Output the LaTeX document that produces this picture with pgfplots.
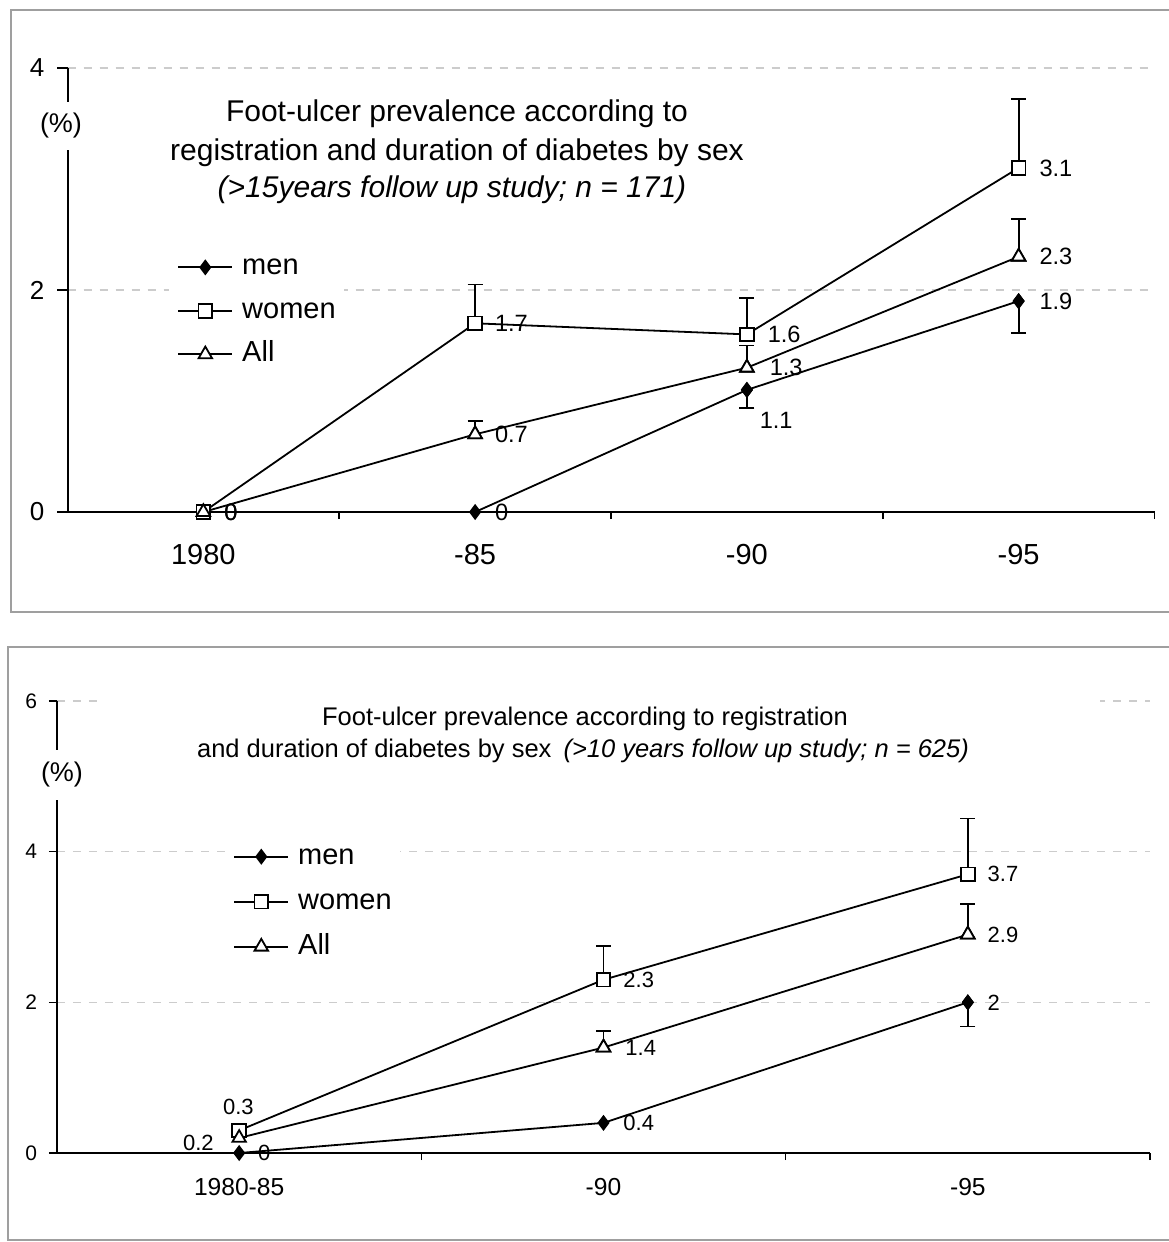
\documentclass[border=0pt]{standalone}
\usepackage{pgfplots}
\pgfplotsset{compat=1.18}
\usepackage{pgfplotstable}
\usepackage{fontspec}
\setmainfont{Liberation Sans}

\newcommand\titlefont{\fontsize{15pt}{18pt}\selectfont}
\newcommand\btitlefont{\fontsize{12.75pt}{15pt}\selectfont}
\newcommand\legfont{\fontsize{14.5pt}{17pt}\selectfont}
\newcommand\toptick{\fontsize{14.5pt}{17pt}\selectfont}
\newcommand\topytick{\fontsize{13pt}{15pt}\selectfont}
\newcommand\bottick{\fontsize{12.3pt}{15pt}\selectfont}
\newcommand\botytick{\fontsize{10.5pt}{12pt}\selectfont}
\newcommand\toplab{\fontsize{11.8pt}{13pt}\selectfont}
\newcommand\botlab{\fontsize{11pt}{13pt}\selectfont}
\newcommand\pctfont{\fontsize{13.5pt}{16pt}\selectfont}

% x = period index, y = prevalence (%), e = one-sided error,
% dx/dy = label offset (pt)
% >15 years follow-up (n = 171)
\pgfplotstableread{
x y e dx dy
0 0   0    10  0
1 1.7 0.35 9.5 0
2 1.6 0.33 10  0
3 3.1 0.62 10  0
}\topwomen
\pgfplotstableread{
x y e dx dy
0 0   0    10  0
1 0.7 0.12 9.5 0
2 1.3 0.20 11  0
3 2.3 0.34 10  0
}\topall
\pgfplotstableread{
x y e dx dy
1 0   0    9.5 0
2 1.1 0.16 6   -15
3 1.9 0.29 10  0
}\topmen
% >10 years follow-up (n = 625)
\pgfplotstableread{
x y e dx dy
0 0.3 0    -8.5  11.5
1 2.3 0.45 9.5   0
2 3.7 0.74 9.5   0
}\botwomen
\pgfplotstableread{
x y e dx dy
0 0.2 0    -28.5 -2.5
1 1.4 0.22 10.5  0
2 2.9 0.41 9.5   0
}\botall
\pgfplotstableread{
x y e dx dy
0 0   0    9   0
1 0.4 0    9.5 0
2 2.0 0.32 9.5 0
}\botmen

\pgfplotsset{
  /pgf/number format/assume math mode=true,
  panel/.style={
    scale only axis, clip=false,
    axis x line*=bottom, axis y line*=left,
    axis line style={black, line width=1pt, -},
    tick align=outside,
    major tick length=5pt, minor tick length=3.5pt,
    tick style={black, line width=0.8pt},
    major x tick style={draw=none},
    ymajorgrids,
    grid style={draw=gray!40, line width=0.75pt, dash pattern=on 4pt off 4pt},
    legend cell align=left,
    legend style={draw=none, fill=white, inner xsep=4pt, inner ysep=3pt,
      nodes={inner sep=0pt, text height=10.5pt, text depth=3pt},
      column sep=4.5pt, anchor=west, font=\legfont},
    legend image code/.code={\draw[mark repeat=2,mark phase=2,##1]
      plot coordinates {(0pt,0pt) (13.5pt,0pt) (27pt,0pt)};},
  },
  men/.style={black, line width=0.9pt, mark=diamond*, mark size=3.3pt,
    mark options={solid, fill=black}},
  women/.style={black, line width=0.9pt, mark=square*, mark size=3.4pt,
    mark options={solid, fill=white}},
  all/.style={black, line width=0.9pt, mark=triangle*, mark size=3.9pt,
    mark options={solid, fill=white}},
  vlabel/.style={
    nodes near coords,
    visualization depends on={\thisrow{dx}\as\dx},
    visualization depends on={\thisrow{dy}\as\dy},
    every node near coord/.append style={anchor=west, inner sep=0pt,
      xshift=\dx, yshift=\dy, font=#1, text=black},
  },
  % one-sided error bars with flat caps
  ebar/.style={only marks, forget plot,
    error bars/.cd, y dir=#1, y explicit,
    error mark=-,
    error bar style={black, line width=0.9pt, solid},
    error mark options={black, line width=0.9pt, mark size=3.75pt, solid, rotate=90}},
}

\begin{document}
\begin{tikzpicture}
\begin{scope}[x=0.5pt, y=-0.5pt]
  \useasboundingbox (0,0) rectangle (1168,1242);
  \fill[white] (0,0) rectangle (1168,1242);
  \draw[gray!75, line width=1pt] (11,10) rectangle (1180,612);
  \draw[gray!75, line width=1pt] (8,647) rectangle (1180,1240);
\end{scope}

% ---------- upper panel ----------
\begin{axis}[panel, at={(33.75pt,-256pt)}, anchor=south west,
  width=543.5pt, height=222pt,
  xmin=-0.5, xmax=3.5, ymin=0, ymax=4,
  xtick={0,1,2,3}, xticklabels={1980,-85,-90,-95},
  minor xtick={0.5,1.5,2.5,3.5},
  ytick={0,2,4},
  xticklabel style={font=\toptick, yshift=-7.7pt},
  yticklabel style={font=\topytick, xshift=-3pt},
  legend style={at={(0.0934,0.453)}, row sep=8.25pt},
]
\addplot[women, skip coords between index={0}{1}, ebar=plus]
  table[x=x, y=y, y error=e] {\topwomen};
\addplot[all, skip coords between index={0}{1}, ebar=plus]
  table[x=x, y=y, y error=e] {\topall};
\addplot[men, skip coords between index={0}{1}, ebar=minus]
  table[x=x, y=y, y error=e] {\topmen};
\addplot[men, vlabel=\toplab] table[x=x, y=y] {\topmen};
\addlegendentry{men}
\addplot[women, vlabel=\toplab] table[x=x, y=y] {\topwomen};
\addlegendentry{women}
\addplot[all, vlabel=\toplab] table[x=x, y=y] {\topall};
\addlegendentry{All}
\end{axis}

% ---------- lower panel ----------
\begin{axis}[panel, at={(28.5pt,-576.5pt)}, anchor=south west,
  width=546.5pt, height=226pt,
  xmin=-0.5, xmax=2.5, ymin=0, ymax=6,
  xtick={0,1,2}, xticklabels={1980-85,-90,-95},
  minor xtick={0.5,1.5,2.5},
  ytick={0,2,4,6},
  major tick length=4pt,
  xticklabel style={font=\bottick, yshift=-5.2pt},
  yticklabel style={font=\botytick, xshift=-2.5pt},
  legend style={at={(0.1537,0.556)}, row sep=9pt},
]
\addplot[women, skip coords between index={0}{1}, ebar=plus]
  table[x=x, y=y, y error=e] {\botwomen};
\addplot[all, skip coords between index={0}{1}, ebar=plus]
  table[x=x, y=y, y error=e] {\botall};
\addplot[men, skip coords between index={0}{2}, ebar=minus]
  table[x=x, y=y, y error=e] {\botmen};
\addplot[men, vlabel=\botlab] table[x=x, y=y] {\botmen};
\addlegendentry{men}
\addplot[women, vlabel=\botlab] table[x=x, y=y] {\botwomen};
\addlegendentry{women}
\addplot[all, vlabel=\botlab] table[x=x, y=y] {\botall};
\addlegendentry{All}
\end{axis}

% titles and axis unit labels
\begin{scope}[x=0.5pt, y=-0.5pt]
  \node[anchor=base, font=\titlefont] at (457,121) {Foot-ulcer prevalence according to};
  \node[anchor=base, font=\titlefont] at (457,160) {registration and duration of diabetes by sex};
  \node[anchor=base, font=\titlefont\itshape] at (452,197) {(>15years follow up study; n = 171)};

  \fill[white] (100,690) rectangle (1100,712);
  \node[anchor=base, font=\btitlefont] at (585,725) {Foot-ulcer prevalence according to registration};
  \node[anchor=base, font=\btitlefont] at (583,757)
    {and duration of diabetes by sex\hspace{6pt}\textit{(>10 years follow up study; n = 625)}};

  \fill[white] (60,102) rectangle (76,150);
  \node[font=\pctfont, inner sep=0pt] at (61,126) {(\%)};
  \fill[white] (50,750) rectangle (64,800);
  \node[font=\pctfont, inner sep=0pt] at (62,775) {(\%)};
\end{scope}
\end{tikzpicture}
\end{document}
